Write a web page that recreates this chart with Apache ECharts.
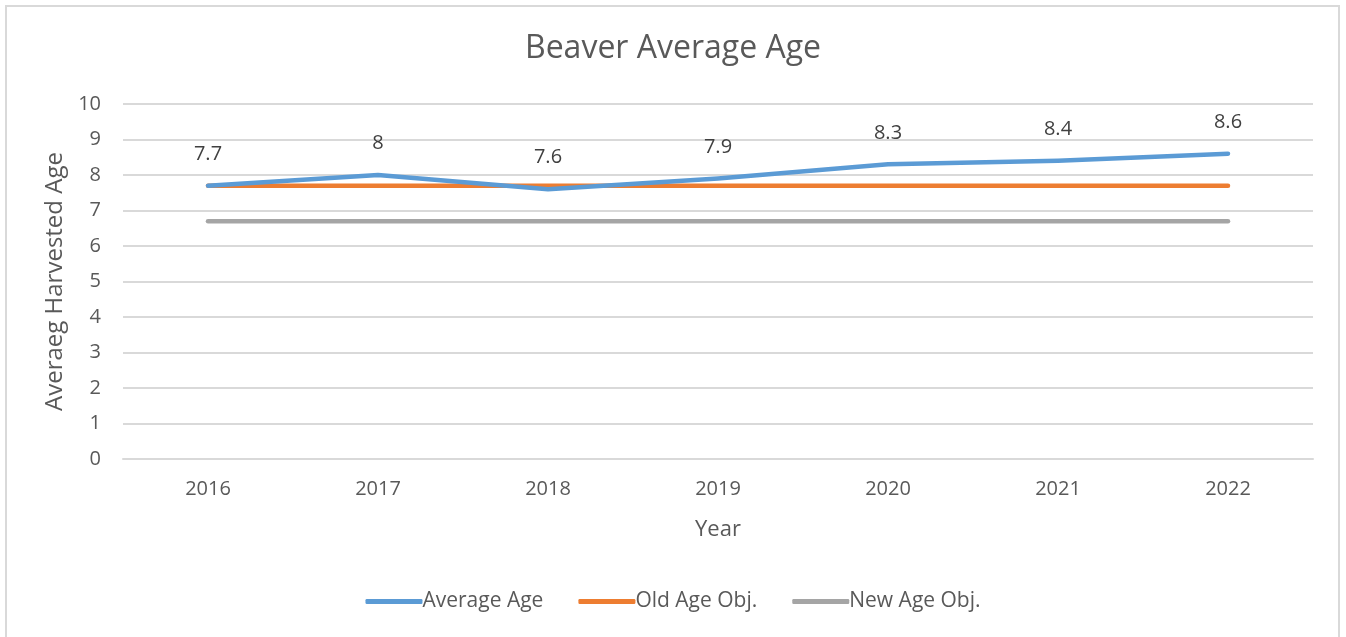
<!DOCTYPE html>
<html>
<head>
<meta charset="utf-8">
<script src="https://cdn.jsdelivr.net/npm/echarts@6/dist/echarts.min.js"></script>
<style>
  html, body { margin: 0; padding: 0; background: #fff; }
  #chart { width: 1346px; height: 637px; }
  #frame { position: absolute; left: 5px; top: 5px; width: 1335px; height: 640px; border: 2px solid #d9d9d9; box-sizing: border-box; pointer-events: none; }
</style>
</head>
<body>
<div id="chart"></div>
<div id="frame"></div>
<script>
var years = ['2016', '2017', '2018', '2019', '2020', '2021', '2022'];
var averageAge = [7.7, 8, 7.6, 7.9, 8.3, 8.4, 8.6];
var oldAgeObj = [7.7, 7.7, 7.7, 7.7, 7.7, 7.7, 7.7];
var newAgeObj = [6.7, 6.7, 6.7, 6.7, 6.7, 6.7, 6.7];

var font = 'Open Sans';
var myChart = echarts.init(document.getElementById('chart'));

function lineSeries(name, data, color, withLabel) {
    return {
        name: name,
        type: 'line',
        data: data,
        symbol: 'circle',
        symbolSize: 1,
        showSymbol: true,
        smooth: false,
        z: withLabel ? 5 : 3,
        lineStyle: { width: 4.5, color: color, cap: 'round', join: 'round' },
        itemStyle: { color: color },
        label: {
            show: withLabel,
            position: 'top',
            distance: 21,
            fontFamily: font,
            fontSize: 20,
            color: '#404040'
        }
    };
}

var option = {
    animation: false,
    title: {
        text: 'Beaver Average Age',
        left: 'center',
        top: 28,
        textStyle: { fontFamily: font, fontSize: 32, fontWeight: 'normal', color: '#595959' }
    },
    grid: { left: 123, right: 33, top: 104, height: 355, containLabel: false },
    legend: {
        top: 586,
        left: 'center',
        itemGap: 35,
        itemWidth: 57,
        itemHeight: 5,
        icon: 'roundRect',
        textStyle: { fontFamily: font, fontSize: 21, color: '#595959', padding: [0, 0, 0, -5] },
        data: ['Average Age', 'Old Age Obj.', 'New Age Obj.']
    },
    xAxis: {
        type: 'category',
        data: years,
        boundaryGap: true,
        name: 'Year',
        nameLocation: 'middle',
        nameGap: 60,
        nameTextStyle: { fontFamily: font, fontSize: 22, color: '#595959' },
        axisLine: { lineStyle: { color: '#d9d9d9', width: 2 } },
        axisTick: { show: false },
        axisLabel: { fontFamily: font, fontSize: 20, color: '#595959', margin: 20 }
    },
    yAxis: {
        type: 'value',
        min: 0,
        max: 10,
        interval: 1,
        name: 'Averaeg Harvested Age',
        nameLocation: 'middle',
        nameGap: 54,
        nameTextStyle: { fontFamily: font, fontSize: 24, color: '#595959' },
        axisLine: { show: false },
        axisTick: { show: false },
        axisLabel: { fontFamily: font, fontSize: 20, color: '#595959', margin: 22 },
        splitLine: { lineStyle: { color: '#d9d9d9', width: 2 } }
    },
    series: [
        lineSeries('Average Age', averageAge, '#5b9bd5', true),
        lineSeries('Old Age Obj.', oldAgeObj, '#ed7d31', false),
        lineSeries('New Age Obj.', newAgeObj, '#a5a5a5', false)
    ]
};
myChart.setOption(option);
</script>
</body>
</html>
